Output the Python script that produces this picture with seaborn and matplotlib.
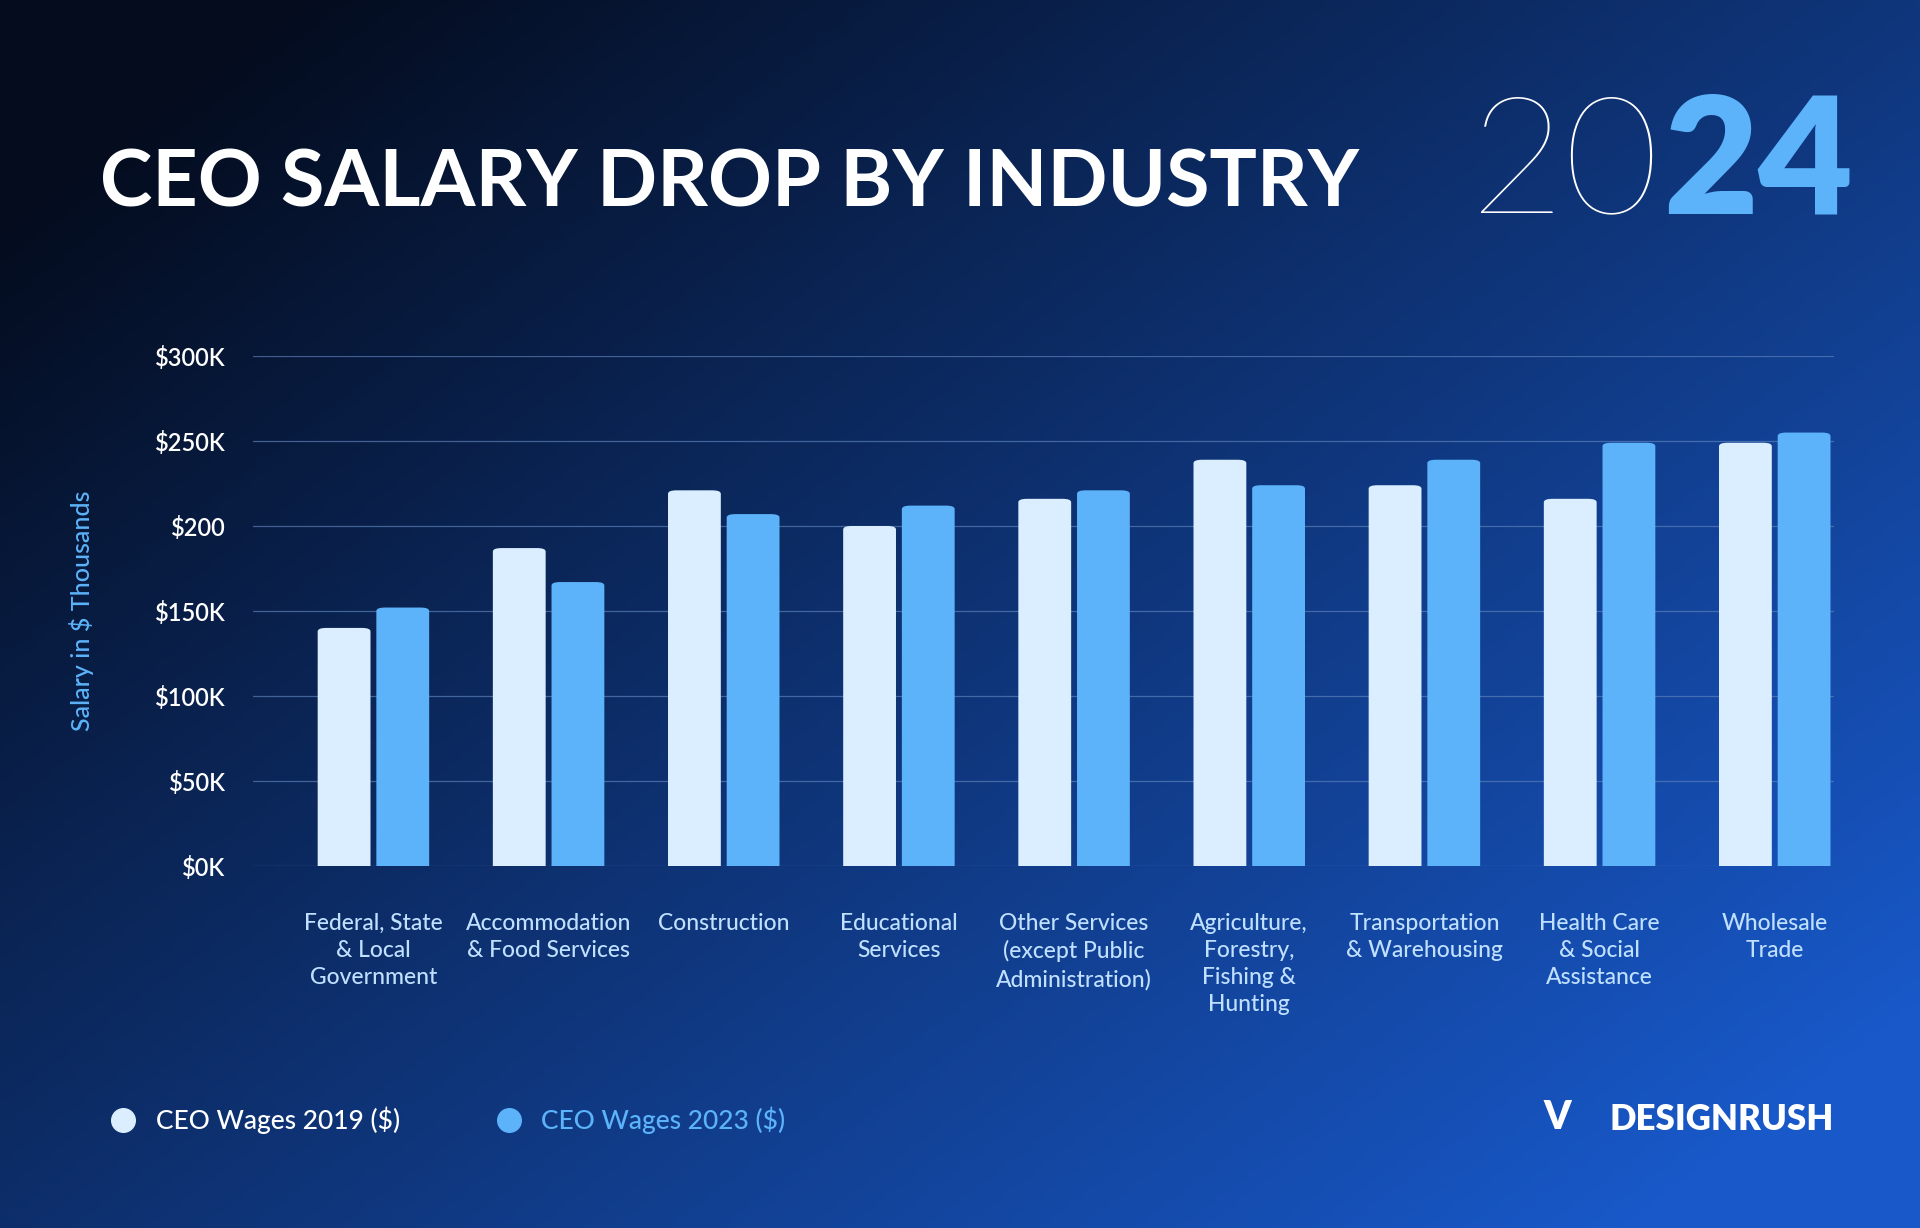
import matplotlib
matplotlib.use("Agg")
import matplotlib.pyplot as plt
import seaborn as sns
import numpy as np
import pandas as pd
from matplotlib.patches import FancyBboxPatch

# data (thousands of $)
industries = ["Federal, State\n& Local\nGovernment", "Accommodation\n& Food Services", "Construction",
              "Educational\nServices", "Other Services\n(except Public\nAdministration)",
              "Agriculture,\nForestry,\nFishing &\nHunting", "Transportation\n& Warehousing",
              "Health Care\n& Social\nAssistance", "Wholesale\nTrade"]
wages_2019 = [140, 187, 221, 200, 216, 239, 224, 216, 249]
wages_2023 = [152, 167, 207, 212, 221, 224, 239, 249, 255]
tick_vals = [0, 50, 100, 150, 200, 250, 300]
tick_labels = ["$0K", "$50K", "$100K", "$150K", "$200", "$250K", "$300K"]

c19 = "#DAEEFF"
c23 = "#5CB3FA"

df = pd.DataFrame({
    "industry": industries * 2,
    "wage": wages_2019 + wages_2023,
    "year": ["2019"] * 9 + ["2023"] * 9,
})

sns.set_style("white")
plt.rcParams["font.family"] = ["Lato", "DejaVu Sans"]

fig = plt.figure(figsize=(19.2, 12.28), dpi=100)

# background gradient
bg = fig.add_axes([0, 0, 1, 1])
yy, xx = np.mgrid[0:1:300j, 0:1:300j]
t = np.clip(0.65 * xx + 0.55 * yy - 0.1, 0, 1)
dark = np.array([4, 12, 30]) / 255
light = np.array([24, 88, 200]) / 255
img = dark[None, None, :] * (1 - t[..., None]) + light[None, None, :] * t[..., None]
bg.imshow(img, aspect="auto", extent=[0, 1, 0, 1], origin="upper")
bg.set_xlim(0, 1)
bg.set_ylim(0, 1)
bg.axis("off")

ax = fig.add_axes([0.132, 0.295, 0.823, 0.415])
ax.patch.set_alpha(0)
sns.barplot(data=df, x="industry", y="wage", hue="year", palette=[c19, c23],
            width=0.67, gap=0.1, ax=ax, legend=False, saturation=1)

# round the bar tops (bottom corners hidden below the axis)
for p in list(ax.patches):
    x, w, h = p.get_x(), p.get_width(), p.get_height()
    fc = p.get_facecolor()
    p.remove()
    fb = FancyBboxPatch((x, -15), w, h + 15, boxstyle="round,pad=0,rounding_size=0.05",
                        mutation_aspect=40, fc=fc, ec="none", zorder=3)
    ax.add_patch(fb)
    fb.set_clip_path(ax.patch)

ax.set_ylim(0, 300)
ax.set_xlim(-0.685, 8.336)
ax.set_yticks(tick_vals)
ax.set_yticklabels(tick_labels, color="white", fontsize=17, fontweight="semibold")
ax.set_xticks(range(9))
ax.set_xticklabels(industries, color="#BFE0FF", fontsize=16.5, linespacing=1.35, va="top",
                   fontweight="medium")
ax.tick_params(axis="x", length=0, pad=34)
ax.tick_params(axis="y", length=0, pad=20)
ax.grid(axis="y", color="#5a7fb8", lw=0.9, alpha=0.7, zorder=0)
ax.set_axisbelow(True)
for s in ax.spines.values():
    s.set_visible(False)
ax.set_xlabel("")
ax.set_ylabel("Salary in $ Thousands", color=c23, fontsize=18, labelpad=44, fontweight="medium")

# titles
fig.text(0.052, 0.85, "CEO SALARY DROP BY INDUSTRY", color="white", fontsize=57,
         fontweight="bold", va="center")
fig.text(0.765, 0.826, "20", color="white", fontsize=118, fontweight="light", va="baseline")
fig.text(0.866, 0.826, "24", color=c23, fontsize=118, fontweight="heavy", va="baseline")

# legend
bg.plot([0.064], [0.088], "o", ms=17, color=c19)
fig.text(0.081, 0.088, "CEO Wages 2019 ($)", color="white", fontsize=19, va="center",
         fontweight="medium")
bg.plot([0.265], [0.088], "o", ms=17, color=c23)
fig.text(0.282, 0.088, "CEO Wages 2023 ($)", color=c23, fontsize=19, va="center",
         fontweight="medium")

fig.text(0.955, 0.088, "DESIGNRUSH", color="white", fontsize=25, fontweight="heavy",
         va="center", ha="right")
fig.text(0.811, 0.09, "V", color="white", fontsize=28, fontweight="heavy", va="center", ha="center")

fig.savefig("out.png", dpi=100)
